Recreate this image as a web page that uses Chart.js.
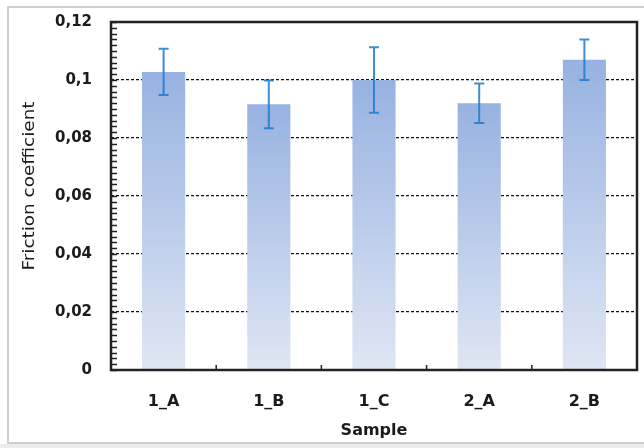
<!DOCTYPE html>
<html>
<head>
<meta charset="utf-8">
<script src="https://cdn.jsdelivr.net/npm/chart.js@4.4.1/dist/chart.umd.min.js"></script>
<style>
    html, body { margin: 0; padding: 0; background: #fff; }
    #wrap { position: relative; width: 644px; height: 448px; overflow: hidden; }
    canvas { position: absolute; left: 0; top: 0; }
</style>
</head>
<body>
<div id="wrap"><canvas id="frictionChart" width="644" height="448"></canvas></div>
<script>
// samples and measured friction coefficient (mean, +/- error)
const samples = ["1_A", "1_B", "1_C", "2_A", "2_B"]
const frictionMean = [0.1028, 0.0916, 0.1000, 0.0920, 0.1070]
const frictionError = [0.0080, 0.0082, 0.0113, 0.0068, 0.0070]
const yTickLabels = ["0", "0,02", "0,04", "0,06", "0,08", "0,1", "0,12"]

const textColor = "#1b1b1b"
const frameColor = "#222"

// grey page border with the light band at the bottom
const pageFrame = {
    id: "pageFrame",
    beforeDraw(chart) {
        const ctx = chart.ctx
        ctx.save()
        ctx.fillStyle = "#fff"
        ctx.fillRect(0, 0, chart.width, chart.height)
        ctx.fillStyle = "#ececec"
        ctx.fillRect(0, 444, chart.width, chart.height - 444)
        ctx.strokeStyle = "#cfcfcf"
        ctx.lineWidth = 2
        ctx.beginPath()
        ctx.moveTo(chart.width, 7)
        ctx.lineTo(8, 7)
        ctx.lineTo(8, 443)
        ctx.lineTo(chart.width, 443)
        ctx.stroke()
        ctx.restore()
    }
}

// black box round the plot, inner minor ticks on y, category ticks on x
const plotFrame = {
    id: "plotFrame",
    afterDatasetsDraw(chart) {
        const ctx = chart.ctx
        const area = chart.chartArea
        const y = chart.scales.y
        const x = chart.scales.x
        ctx.save()
        ctx.strokeStyle = frameColor
        ctx.lineWidth = 1.5
        ctx.beginPath()
        for (let i = 0; i <= 60; i++) {
            const py = Math.round(y.getPixelForValue(i * 0.002)) + 0.5
            ctx.moveTo(area.left, py)
            ctx.lineTo(area.left + 6, py)
        }
        for (let i = 1; i < samples.length; i++) {
            const px = (x.getPixelForValue(i - 1) + x.getPixelForValue(i)) / 2
            ctx.moveTo(px, area.bottom)
            ctx.lineTo(px, area.bottom - 5)
        }
        ctx.stroke()
        ctx.lineWidth = 2.5
        ctx.strokeRect(area.left, area.top, area.right - area.left, area.bottom - area.top)
        ctx.restore()
    }
}

const errorBars = {
    id: "errorBars",
    afterDatasetsDraw(chart) {
        const ctx = chart.ctx
        const y = chart.scales.y
        const meta = chart.getDatasetMeta(0)
        ctx.save()
        ctx.strokeStyle = "rgba(28, 122, 206, 0.85)"
        ctx.lineWidth = 2
        meta.data.forEach((bar, i) => {
            const hi = y.getPixelForValue(frictionMean[i] + frictionError[i])
            const lo = y.getPixelForValue(frictionMean[i] - frictionError[i])
            ctx.beginPath()
            ctx.moveTo(bar.x, hi)
            ctx.lineTo(bar.x, lo)
            ctx.moveTo(bar.x - 5, hi)
            ctx.lineTo(bar.x + 5, hi)
            ctx.moveTo(bar.x - 5, lo)
            ctx.lineTo(bar.x + 5, lo)
            ctx.stroke()
        })
        ctx.restore()
    }
}

// rotated y title, sits a little above the plot middle
const yTitle = {
    id: "yTitle",
    afterDraw(chart) {
        const ctx = chart.ctx
        ctx.save()
        ctx.translate(30, 186)
        ctx.rotate(-Math.PI / 2)
        ctx.scale(1.15, 1)
        ctx.font = "16px 'DejaVu Sans'"
        ctx.fillStyle = textColor
        ctx.textAlign = "center"
        ctx.textBaseline = "middle"
        ctx.fillText("Friction coefficient", 0, 0)
        ctx.restore()
    }
}

function barGradient(context) {
    const chart = context.chart
    if (!chart.chartArea) return "#a9bfe6"
    const y = chart.scales.y
    const top = y.getPixelForValue(context.raw)
    const bottom = y.getPixelForValue(0)
    const g = chart.ctx.createLinearGradient(0, top, 0, bottom)
    g.addColorStop(0, "#97b2e1")
    g.addColorStop(1, "#dfe6f4")
    return g
}

const ctx = document.getElementById("frictionChart").getContext("2d")
window.frictionChart = new Chart(ctx, {
    type: "bar",
    data: {
        labels: samples,
        datasets: [{
            label: "Friction coefficient",
            data: frictionMean,
            backgroundColor: barGradient,
            borderWidth: 0,
            barPercentage: 0.41,
            categoryPercentage: 1
        }]
    },
    options: {
        responsive: false,
        animation: false,
        devicePixelRatio: 1,
        layout: { padding: { top: 22, right: 7, left: 0, bottom: 0 } },
        plugins: {
            legend: { display: false },
            tooltip: { enabled: false }
        },
        scales: {
            x: {
                grid: { display: false, drawTicks: false },
                border: { display: false },
                ticks: {
                    color: textColor,
                    padding: 22,
                    font: { family: "'DejaVu Sans'", size: 16, weight: "bold" }
                },
                title: {
                    display: true,
                    text: "Sample",
                    color: textColor,
                    padding: { top: 0, bottom: 8 },
                    font: { family: "'DejaVu Sans'", size: 16, weight: "bold" }
                },
                afterFit(scale) { scale.height = 78 }
            },
            y: {
                min: 0,
                max: 0.12,
                grid: { color: "#111", lineWidth: 1.3, drawTicks: false },
                border: { display: false, dash: [3, 2] },
                ticks: {
                    stepSize: 0.02,
                    color: textColor,
                    padding: 19,
                    font: { family: "'DejaVu Sans'", size: 15, weight: "bold" },
                    callback: (value, index) => yTickLabels[index]
                },
                afterFit(scale) {
                    scale.width = 111
                    scale.paddingTop = 0
                    scale.paddingBottom = 0
                }
            }
        }
    },
    plugins: [pageFrame, errorBars, plotFrame, yTitle]
})
</script>
</body>
</html>
